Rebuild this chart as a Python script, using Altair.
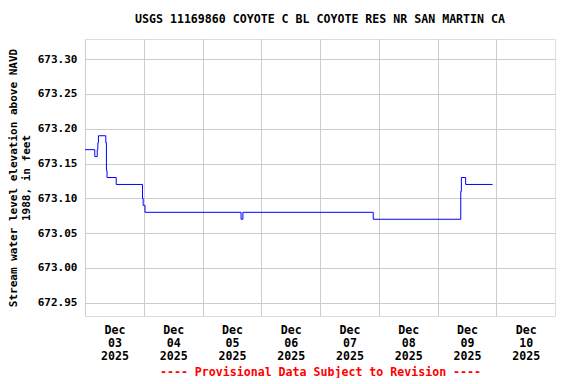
import altair as alt
import pandas as pd

# Stepwise 15-minute gage readings
times = [
    "2025-12-03T00:00:00Z", "2025-12-03T04:00:00Z", "2025-12-03T05:00:00Z",
    "2025-12-03T05:15:00Z", "2025-12-03T05:30:00Z", "2025-12-03T08:30:00Z",
    "2025-12-03T08:45:00Z", "2025-12-03T09:00:00Z", "2025-12-03T12:45:00Z",
    "2025-12-03T23:30:00Z", "2025-12-03T23:45:00Z", "2025-12-04T00:30:00Z",
    "2025-12-05T15:45:00Z", "2025-12-05T16:30:00Z", "2025-12-07T21:45:00Z",
    "2025-12-09T09:30:00Z", "2025-12-09T09:45:00Z", "2025-12-09T11:30:00Z",
    "2025-12-09T22:30:00Z",
]
values = [
    673.17, 673.16, 673.17,
    673.18, 673.19, 673.18,
    673.14, 673.13, 673.12,
    673.10, 673.09, 673.08,
    673.07, 673.08, 673.07,
    673.11, 673.13, 673.12,
    673.12,
]
y_ticks = [672.95, 673.00, 673.05, 673.10, 673.15, 673.20, 673.25, 673.30]
day_ticks = [3, 4, 5, 6, 7, 8, 9, 10]

df = pd.DataFrame({"t": times, "v": values})

FONT = "DejaVu Sans Mono"

x_axis = alt.Axis(
    values=[alt.DateTime(year=2025, month=12, date=d, utc=True) for d in day_ticks],
    labelExpr="[utcFormat(datum.value, '%b'), utcFormat(datum.value, '%d'), utcFormat(datum.value, '%Y')]",
    labelOffset=29.4,
    labelFont=FONT, labelFontSize=11.6, labelFontWeight="bold", labelColor="black",
    labelLineHeight=13, labelPadding=8, labelBaseline="top", labelFlush=False,
    labelOverlap=False,
    ticks=False, domain=False,
    grid=True, gridColor="#cccccc", gridWidth=1, gridOpacity=1,
    title="---- Provisional Data Subject to Revision ----",
    titleFont=FONT, titleFontSize=11.6, titleFontWeight="bold", titleColor="#ff0000",
    titlePadding=5,
)

y_axis = alt.Axis(
    values=y_ticks, format=".2f",
    labelFont=FONT, labelFontSize=11, labelFontWeight="bold", labelColor="black",
    labelPadding=8, ticks=False, domain=False,
    grid=True, gridColor="#cccccc", gridWidth=1, gridOpacity=1,
    title=["Stream water level elevation above NAVD", "1988, in feet"],
    titleFont=FONT, titleFontSize=11, titleFontWeight="bold", titleColor="black",
    titlePadding=6, titleLineHeight=13,
)

chart = alt.Chart(df).mark_line(
    interpolate="step-after", color="#0000ff", strokeWidth=1, clip=True
).encode(
    x=alt.X("t:T", axis=x_axis, scale=alt.Scale(
        type="utc",
        domain=[alt.DateTime(year=2025, month=12, date=3, utc=True),
                alt.DateTime(year=2025, month=12, date=11, utc=True)])),
    y=alt.Y("v:Q", axis=y_axis, scale=alt.Scale(domain=[672.931, 673.329], zero=False, nice=False)),
).properties(
    width=470, height=277,
    title=alt.TitleParams(
        text="USGS 11169860 COYOTE C BL COYOTE RES NR SAN MARTIN CA",
        font=FONT, fontSize=11.6, fontWeight="bold", color="black",
        anchor="middle", offset=13,
    ),
    autosize=alt.AutoSizeParams(type="none"),
    padding={"left": 77, "top": 31, "right": 13, "bottom": 62},
).configure_view(
    stroke="black", strokeWidth=1
).configure(background="white")

chart.save("out.html", embed_options={"renderer": "svg", "actions": False})
